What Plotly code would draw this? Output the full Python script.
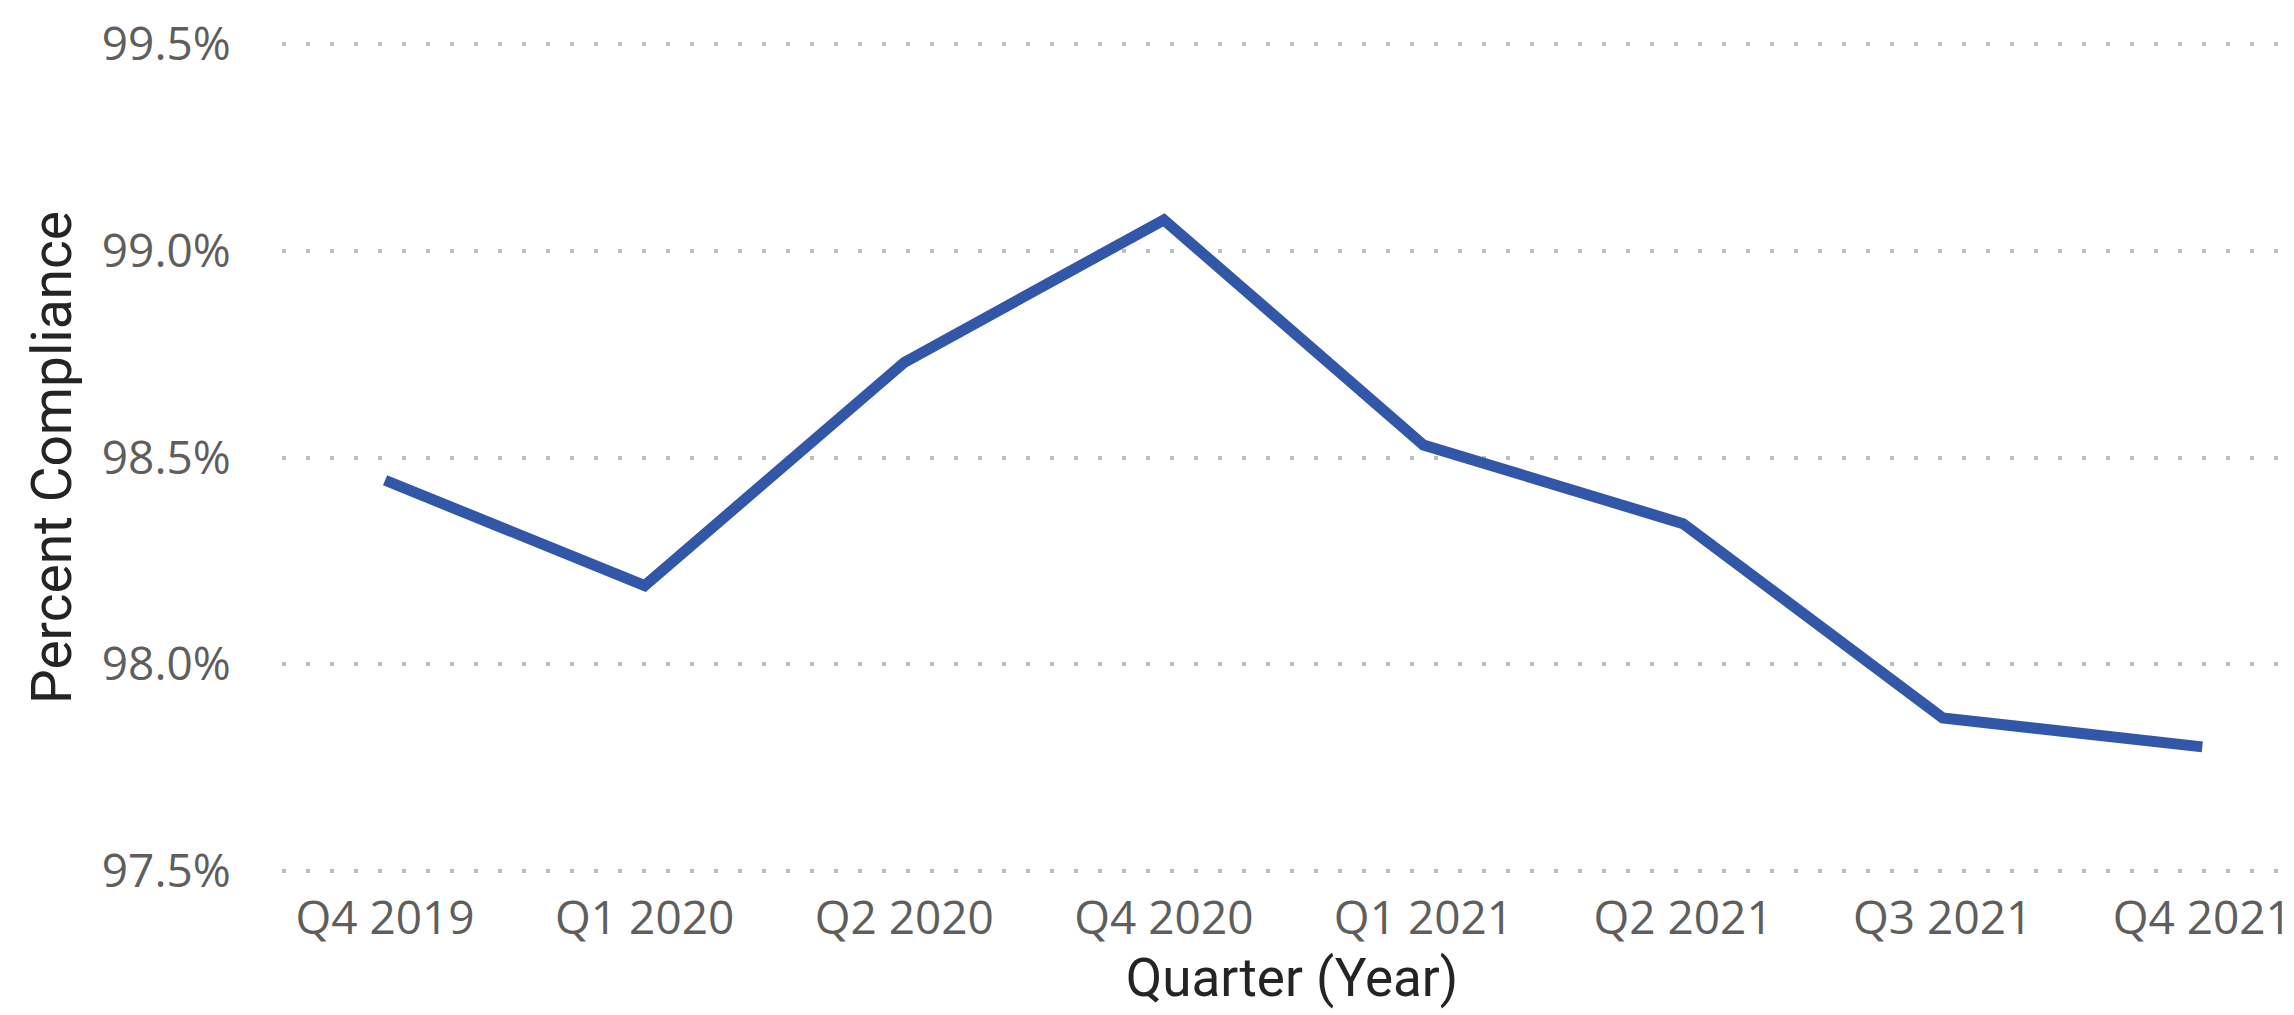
import plotly.graph_objects as go

quarters = ["Q4 2019", "Q1 2020", "Q2 2020", "Q4 2020", "Q1 2021", "Q2 2021", "Q3 2021", "Q4 2021"]
compliance = [98.445, 98.19, 98.73, 99.075, 98.53, 98.34, 97.87, 97.80]
y_ticks = [97.5, 98.0, 98.5, 99.0, 99.5]
y_tick_labels = ["97.5%", "98.0%", "98.5%", "99.0%", "99.5%"]

fig = go.Figure()
fig.add_trace(go.Scatter(
    x=quarters, y=compliance, mode="lines",
    line=dict(color="#3257A8", width=11),
    hoverinfo="x+y",
))

tick_font = dict(family="Open Sans, Noto Sans, sans-serif", size=46, color="#605E5C")
y_title_font = dict(family="Roboto, DejaVu Sans, sans-serif", size=55, color="#252423")
x_title_font = dict(family="Roboto, DejaVu Sans, sans-serif", size=53, color="#252423")

fig.update_layout(
    width=2294, height=1015,
    margin=dict(l=274, r=0, t=32, b=148, autoexpand=False),
    paper_bgcolor="white", plot_bgcolor="white",
    showlegend=False,
    xaxis=dict(
        type="category",
        range=[-0.397, 7.384],
        showgrid=False, zeroline=False, showline=False,
        ticks="outside", ticklen=3, tickcolor="rgba(0,0,0,0)",
        tickfont=tick_font,
        title=dict(text="Quarter (Year)", font=x_title_font, standoff=9),
    ),
    yaxis=dict(
        range=[97.49, 99.51],
        tickmode="array", tickvals=y_ticks, ticktext=y_tick_labels,
        showgrid=True, gridcolor="#BDBDBD", gridwidth=4, griddash="4px,20px",
        zeroline=False, showline=False,
        ticks="outside", ticklen=41, tickcolor="rgba(0,0,0,0)",
        tickfont=tick_font,
        title=dict(text="Percent Compliance", font=y_title_font, standoff=12),
    ),
)

fig.write_html("out.html")
